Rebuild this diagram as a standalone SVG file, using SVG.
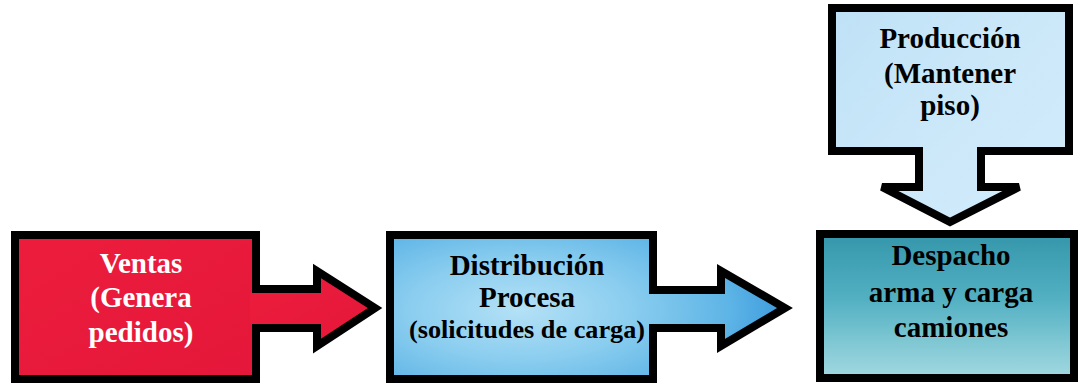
<svg xmlns="http://www.w3.org/2000/svg" width="1078" height="383" viewBox="0 0 1078 383">
<defs>
<linearGradient id="gRed" x1="0" y1="0" x2="1" y2="1">
<stop offset="0" stop-color="#ec1d3c"/>
<stop offset="1" stop-color="#e5173a"/>
</linearGradient>
<radialGradient id="gDist" gradientUnits="userSpaceOnUse" cx="520" cy="310" r="280" gradientTransform="translate(520 310) scale(1 0.45) translate(-520 -310)">
<stop offset="0" stop-color="#b4e1f6"/>
<stop offset="0.4" stop-color="#8acdef"/>
<stop offset="0.75" stop-color="#5db4e6"/>
<stop offset="1" stop-color="#3494da"/>
</radialGradient>
<linearGradient id="gDesp" x1="0" y1="0" x2="0" y2="1">
<stop offset="0" stop-color="#3596ab"/>
<stop offset="0.45" stop-color="#52b0c2"/>
<stop offset="0.8" stop-color="#86cbd6"/>
<stop offset="1" stop-color="#a2d8e0"/>
</linearGradient>
<linearGradient id="gProd" gradientUnits="userSpaceOnUse" x1="832" y1="8" x2="1069" y2="222">
<stop offset="0" stop-color="#bfe1f6"/>
<stop offset="0.5" stop-color="#cbe8f9"/>
<stop offset="1" stop-color="#d3ecfb"/>
</linearGradient>
<style>
.box{stroke:#000;stroke-width:8;stroke-linejoin:miter}
.arr{fill:none;stroke:#000;stroke-width:8;stroke-linejoin:miter;stroke-linecap:butt}
.t{font-family:"Liberation Serif","Times New Roman",serif;font-weight:bold;font-size:29px;text-anchor:middle}
.w{fill:#fff}
.k{fill:#000}
</style>
</defs>
<rect width="1078" height="383" fill="#fff"/>
<g id="ventas">
<rect class="box" x="15" y="235" width="241" height="144" fill="url(#gRed)"/>
<text class="t w" x="141" y="273">Ventas</text>
<text class="t w" x="141" y="307">(Genera</text>
<text class="t w" x="141" y="342">pedidos)</text>
</g>
<g id="distribucion">
<rect class="box" x="390" y="235" width="263" height="144" fill="url(#gDist)"/>
<text class="t k" x="527" y="275">Distribución</text>
<text class="t k" x="527" y="307">Procesa</text>
<text class="t k" x="527" y="338" style="font-size:26px" textLength="236" lengthAdjust="spacingAndGlyphs">(solicitudes de carga)</text>
</g>
<g id="despacho">
<rect class="box" x="820" y="234" width="254" height="144" fill="url(#gDesp)"/>
<text class="t k" x="951" y="265">Despacho</text>
<text class="t k" x="951" y="302">arma y carga</text>
<text class="t k" x="951" y="337">camiones</text>
</g>
<g id="produccion">
<rect class="box" x="832" y="8" width="237" height="143" fill="url(#gProd)"/>
<text class="t k" x="950" y="48">Producción</text>
<text class="t k" x="950" y="83">(Mantener</text>
<text class="t k" x="950" y="115">piso)</text>
</g>
<g id="connectors">
<path d="M250,293 H317 V271 L375,308 L317,346 V324 H250 Z" fill="url(#gRed)"/>
<path class="arr" d="M256,289 H317 V271 L375,308 L317,346 V328 H256"/>
<path d="M647,294 H721 V271 L785,308 L721,346 V324 H647 Z" fill="url(#gDist)"/>
<path class="arr" d="M653,290 H721 V271 L785,308 L721,346 V328 H653"/>
<path d="M923,145 V187 H882 L950,222 L1019,187 H977 V145 Z" fill="url(#gProd)"/>
<path class="arr" d="M919,151 V187 H882 L950,222 L1019,187 H981 V151"/>
</g>
</svg>
